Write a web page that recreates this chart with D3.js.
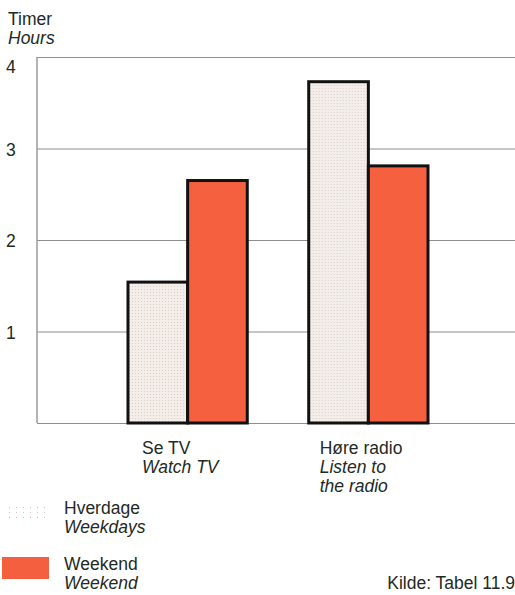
<!DOCTYPE html>
<html>
<head>
<meta charset="utf-8">
<script src="https://cdn.jsdelivr.net/npm/d3@7"></script>
<style>
  body { margin: 0; background: #fff; }
  text { font-family: "Liberation Sans", Arial, sans-serif; fill: #222a24; }
</style>
</head>
<body>
<script>
// data
const categories = ["tv", "radio"];
const catLabels = [["Se TV", "Watch TV"], ["Høre radio", "Listen to", "the radio"]];
const series = ["Hverdage", "Weekend"];
const seriesEn = ["Weekdays", "Weekend"];
const weekdays = [1.54, 3.73];
const weekend = [2.65, 2.81];
const yTicks = [1, 2, 3, 4];

const WIDTH = 515, HEIGHT = 595;
let margin = {top: 57, left: 37};
const FS = 17.5, LINE = 19;

let svg = d3.select("body").append("svg")
    .attr("width", WIDTH)
    .attr("height", HEIGHT);

let defs = svg.append("defs");
let pat = defs.append("pattern")
    .attr("id", "dots")
    .attr("width", 3).attr("height", 3)
    .attr("patternUnits", "userSpaceOnUse");
pat.append("rect").attr("width", 3).attr("height", 3).attr("fill", "#f4eeeb");
pat.append("rect").attr("x", 1).attr("y", 1).attr("width", 1).attr("height", 1).attr("fill", "#dccdc6");

let legPat = defs.append("pattern")
    .attr("id", "sparse")
    .attr("width", 7).attr("height", 5)
    .attr("patternUnits", "userSpaceOnUse");
legPat.append("rect").attr("x", 2).attr("y", 2).attr("width", 1).attr("height", 1).attr("fill", "#d4bfb8");

let y = d3.scaleLinear()
    .domain([0, 4])
    .range([423, 57]);

let x0 = d3.scaleBand()
    .domain(categories)
    .range([128, 428])
    .paddingInner(0.34);

let x1 = d3.scaleBand()
    .domain(series)
    .range([0, x0.bandwidth()]);

const fills = {"Hverdage": "url(#dots)", "Weekend": "#f5603f"};

// grid lines
let grid = svg.append("g")
    .attr("transform", "translate(" + margin.left + ",0)")
    .call(d3.axisLeft(y).tickValues([0].concat(yTicks)).tickSize(-(WIDTH - margin.left)).tickFormat(""));
grid.select(".domain").remove();
grid.selectAll("line").attr("stroke", "#8e8e8e").attr("stroke-width", 1.2);

// left axis line
svg.append("line")
    .attr("x1", margin.left).attr("x2", margin.left)
    .attr("y1", y(4)).attr("y2", y(0))
    .attr("stroke", "#9a9a9a").attr("stroke-width", 1.5);

// tick labels (top one sits below its line)
svg.selectAll(".ytick")
    .data(yTicks)
    .enter().append("text")
    .attr("class", "ytick")
    .attr("x", 6)
    .attr("y", d => y(d) + (d == 4 ? 16 : 7))
    .attr("font-size", FS)
    .text(d => d);

// bars
let rows = categories.map((c, i) => ({cat: c, vals: [weekdays[i], weekend[i]]}));
let groups = svg.selectAll(".grp")
    .data(rows)
    .enter().append("g")
    .attr("transform", d => "translate(" + x0(d.cat) + ",0)");

groups.selectAll("rect")
    .data(d => d.vals.map((v, j) => ({s: series[j], v: v})))
    .enter().append("rect")
    .attr("x", d => x1(d.s))
    .attr("y", d => y(d.v))
    .attr("width", x1.bandwidth())
    .attr("height", d => y(0) - y(d.v))
    .attr("fill", d => fills[d.s])
    .attr("stroke", "#111")
    .attr("stroke-width", 3);

// category labels
categories.forEach((c, i) => {
    catLabels[i].forEach((t, k) => {
        svg.append("text")
            .attr("x", x0(c) + (i == 0 ? 14 : 11))
            .attr("y", 454 + k * LINE)
            .attr("font-size", FS)
            .style("font-style", k == 0 ? "normal" : "italic")
            .text(t);
    });
});

// title
svg.append("text").attr("x", 8).attr("y", 25).attr("font-size", FS).text("Timer");
svg.append("text").attr("x", 8).attr("y", 25 + LINE).attr("font-size", FS).style("font-style", "italic").text("Hours");

// legend
let legY = [503, 557];
let legText = [514, 570];
let legFill = ["url(#sparse)", "#f4603f"];
series.forEach((s, i) => {
    svg.append("rect")
        .attr("x", i == 0 ? 9 : 2)
        .attr("y", legY[i])
        .attr("width", i == 0 ? 40 : 47)
        .attr("height", i == 0 ? 15 : 22)
        .attr("fill", legFill[i]);
    svg.append("text").attr("x", 64).attr("y", legText[i]).attr("font-size", FS).text(s);
    svg.append("text").attr("x", 64).attr("y", legText[i] + LINE).attr("font-size", FS)
        .style("font-style", "italic").text(seriesEn[i]);
});

svg.append("text")
    .attr("x", 515).attr("y", 589)
    .attr("text-anchor", "end")
    .attr("font-size", FS)
    .text("Kilde: Tabel 11.9");
</script>
</body>
</html>
